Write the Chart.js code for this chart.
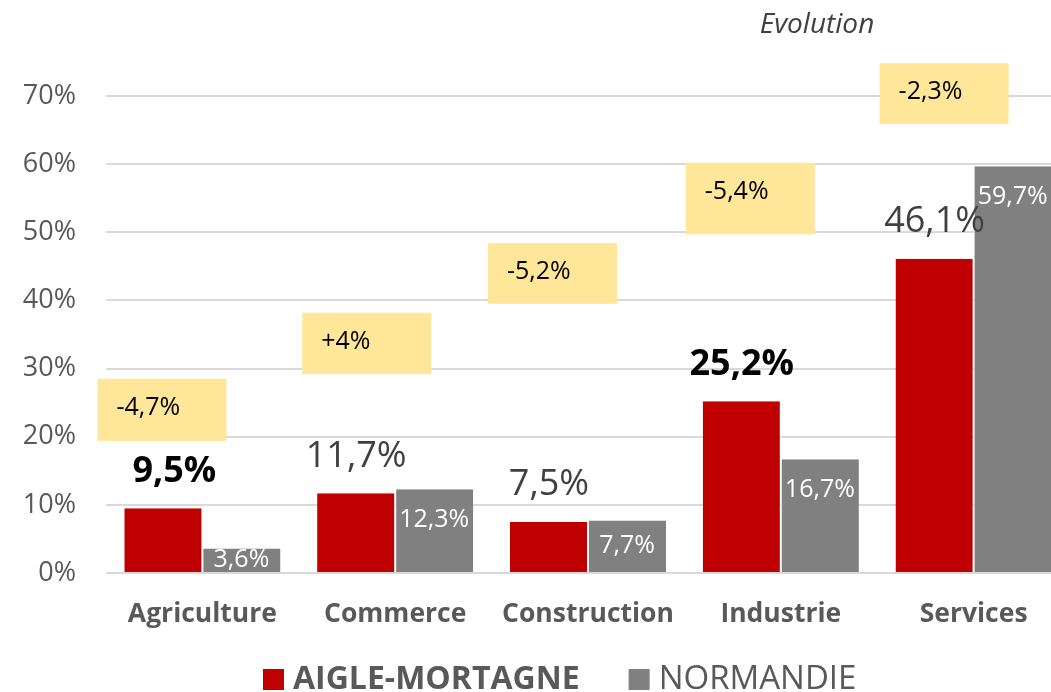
<!DOCTYPE html>
<html>
<head>
<meta charset="utf-8">
<script src="https://cdn.jsdelivr.net/npm/chart.js@4.4.1/dist/chart.umd.min.js"></script>
<style>
  html, body { margin: 0; padding: 0; background: #fff; overflow: hidden; }
  #wrap { position: absolute; left: 0; top: 0; width: 1070px; height: 692px; }
</style>
</head>
<body>
<div id="wrap"><canvas id="chart" width="1070" height="692"></canvas></div>
<script>
const categories = ['Agriculture', 'Commerce', 'Construction', 'Industrie', 'Services'];
const aigleValues = [9.5, 11.7, 7.5, 25.2, 46.1];
const normandieValues = [3.6, 12.3, 7.7, 16.7, 59.7];
const evolutionLabels = ['-4,7%', '+4%', '-5,2%', '-5,4%', '-2,3%'];
const aigleBold = [true, false, false, true, false];
const yTicks = [0, 10, 20, 30, 40, 50, 60, 70];

// yellow evolution boxes: top/bottom in axis units, dx/w in px from the category centre
const evoBoxes = [
  { dx: -105, w: 129, top: 28.5, bottom: 19.4 },
  { dx: -93, w: 129, top: 38.2, bottom: 29.2 },
  { dx: -100, w: 129, top: 48.4, bottom: 39.5 },
  { dx: -95, w: 129, top: 60.2, bottom: 49.7 },
  { dx: -94, w: 129, top: 74.8, bottom: 65.9 }
];
// the first red label was nudged right by hand in the original
const aigleLabelDx = [11, 0, 0, 0, 0];

const FONT = '"Open Sans", "Liberation Sans", sans-serif';
const fmt = v => v.toFixed(1).replace('.', ',') + '%';

const labelsPlugin = {
  id: 'labels',
  afterDatasetsDraw(chart) {
    const ctx = chart.ctx;
    ctx.save();
    ctx.textAlign = 'center';
    ctx.textBaseline = 'middle';

    // red bars: value above
    chart.getDatasetMeta(0).data.forEach((bar, i) => {
      ctx.font = (aigleBold[i] ? 'bold ' : '') + '36px ' + FONT;
      ctx.fillStyle = aigleBold[i] ? '#000000' : '#404040';
      ctx.fillText(fmt(aigleValues[i]), bar.x + aigleLabelDx[i], bar.y - 37);
    });

    // gray bars: value inside, near the top
    ctx.font = '25px ' + FONT;
    ctx.fillStyle = '#ffffff';
    chart.getDatasetMeta(1).data.forEach((bar, i) => {
      const h = bar.base - bar.y;
      const y = h < 62 ? bar.y + h / 2 : bar.y + 31;
      ctx.fillText(fmt(normandieValues[i]), bar.x, y);
    });

    // evolution boxes
    const xs = chart.scales.x, ys = chart.scales.y;
    ctx.textAlign = 'left';
    ctx.font = '25px ' + FONT;
    evoBoxes.forEach((b, i) => {
      const cx = xs.getPixelForValue(i);
      const top = ys.getPixelForValue(b.top);
      const bottom = ys.getPixelForValue(b.bottom);
      ctx.fillStyle = '#FFE699';
      ctx.fillRect(cx + b.dx, top, b.w, bottom - top);
      ctx.fillStyle = '#000000';
      ctx.fillText(evolutionLabels[i], cx + b.dx + 19, top + 29);
    });

    // "Evolution" caption
    ctx.textAlign = 'center';
    ctx.font = 'italic 28px ' + FONT;
    ctx.fillStyle = '#404040';
    ctx.fillText('Evolution', 817, 25);

    // legend
    const ly = 680;
    let x = 263;
    chart.data.datasets.forEach((ds, i) => {
      ctx.fillStyle = ds.backgroundColor;
      ctx.fillRect(x, ly - 11, 21, 21);
      x += 30;
      ctx.font = (i === 0 ? 'bold 32px ' : '33px ') + FONT;
      ctx.fillStyle = '#595959';
      ctx.textAlign = 'left';
      ctx.fillText(ds.label, x, ly);
      x += ctx.measureText(ds.label).width + 49;
    });
    ctx.restore();
  }
};

new Chart(document.getElementById('chart'), {
  type: 'bar',
  data: {
    labels: categories,
    datasets: [
      {
        label: 'AIGLE-MORTAGNE',
        data: aigleValues,
        backgroundColor: '#C00000',
        borderColor: '#ffffff',
        borderWidth: { left: 0, right: 1, top: 0, bottom: 0 },
        categoryPercentage: 0.81,
        barPercentage: 1.0
      },
      {
        label: 'NORMANDIE',
        data: normandieValues,
        backgroundColor: '#808080',
        borderColor: '#ffffff',
        borderWidth: { left: 1, right: 0, top: 0, bottom: 0 },
        categoryPercentage: 0.81,
        barPercentage: 1.0
      }
    ]
  },
  options: {
    responsive: false,
    animation: false,
    layout: { padding: { top: 96, right: 0, bottom: 0, left: 0 } },
    plugins: {
      legend: { display: false },
      tooltip: { enabled: false },
      title: { display: false }
    },
    scales: {
      x: {
        grid: { display: false, drawTicks: false },
        border: { display: false },
        ticks: {
          color: '#595959',
          font: { family: FONT, size: 26.5, weight: 'bold' },
          padding: 26
        },
        afterFit(scale) { scale.height = 119; }
      },
      y: {
        min: 0,
        max: 70,
        afterBuildTicks(scale) { scale.ticks = yTicks.map(v => ({ value: v })); },
        grid: { color: '#d9d9d9', lineWidth: 2, drawTicks: false },
        border: { display: false },
        ticks: {
          color: '#595959',
          font: { family: FONT, size: 27 },
          padding: 30,
          callback: v => v + '%'
        },
        afterFit(scale) { scale.width = 106; }
      }
    }
  },
  plugins: [labelsPlugin]
});
</script>
</body>
</html>
